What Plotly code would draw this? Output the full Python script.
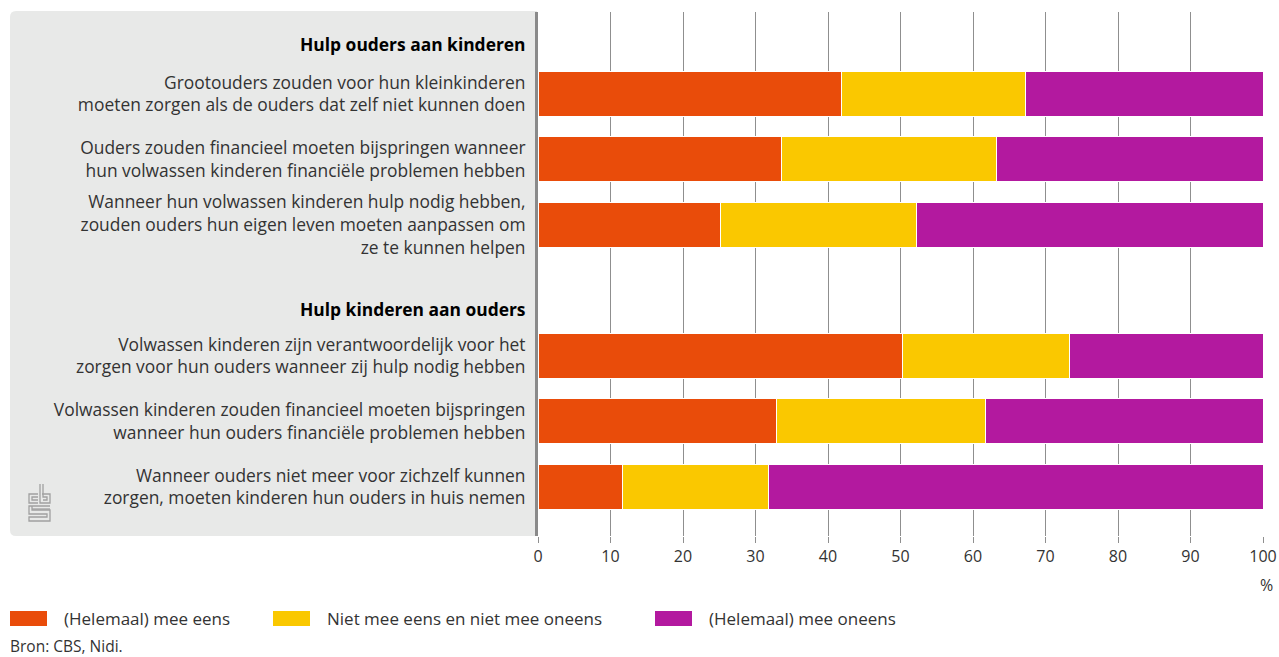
import plotly.graph_objects as go

# ---------------- data ----------------
statements = [
    "Grootouders zouden voor hun kleinkinderen<br>moeten zorgen als de ouders dat zelf niet kunnen doen",
    "Ouders zouden financieel moeten bijspringen wanneer<br>hun volwassen kinderen financiële problemen hebben",
    "Wanneer hun volwassen kinderen hulp nodig hebben,<br>zouden ouders hun eigen leven moeten aanpassen om<br>ze te kunnen helpen",
    "Volwassen kinderen zijn verantwoordelijk voor het<br>zorgen voor hun ouders wanneer zij hulp nodig hebben",
    "Volwassen kinderen zouden financieel moeten bijspringen<br>wanneer hun ouders financiële problemen hebben",
    "Wanneer ouders niet meer voor zichzelf kunnen<br>zorgen, moeten kinderen hun ouders in huis nemen",
]
headers = ["Hulp ouders aan kinderen", "Hulp kinderen aan ouders"]

series_names = ["(Helemaal) mee eens", "Niet mee eens en niet mee oneens", "(Helemaal) mee oneens"]
eens = [41.8, 33.6, 25.2, 50.3, 32.9, 11.6]
neutraal = [25.4, 29.7, 27.0, 23.0, 28.8, 20.2]
oneens = [32.8, 36.7, 47.8, 26.7, 38.3, 68.2]

x_ticks = [0, 10, 20, 30, 40, 50, 60, 70, 80, 90, 100]
source_text = "Bron: CBS, Nidi."
unit_text = "%"

# ---------------- layout constants ----------------
W, H = 1279, 657
L, R, T, B = 538, 1263, 12, 536   # plot area in screen pixels
row_pos = [0, 1, 2, 4, 5, 6]
header_pos = [-0.75, 3.3]
colors = ["#e94c0a", "#fac800", "#b3199f"]
FONT = "Open Sans"
TXT = "#333333"
FS = 17.4


def xp(px):
    return (px - L) / (R - L)


def yp(py):
    return (B - py) / (B - T)


fig = go.Figure()
for name, vals, col in zip(series_names, [eens, neutraal, oneens], colors):
    fig.add_trace(go.Bar(
        x=vals, y=row_pos, orientation="h", name=name,
        marker=dict(color=col, line=dict(color="white", width=1)),
        width=0.69, showlegend=False,
        hovertemplate="%{x}%<extra>" + name + "</extra>",
    ))

shapes = []
# grey panel with rounded left corners
r_x = 6 / (R - L)
r_y = 6 / (B - T)
x0, x1 = xp(10), xp(537)
y0, y1 = yp(536), yp(11)
panel_path = (f"M {x0 + r_x},{y1} L {x1},{y1} L {x1},{y0} L {x0 + r_x},{y0} "
              f"Q {x0},{y0} {x0},{y0 + r_y} L {x0},{y1 - r_y} Q {x0},{y1} {x0 + r_x},{y1} Z")
shapes.append(dict(type="path", xref="paper", yref="paper", path=panel_path,
                   fillcolor="#e8e9e8", line=dict(width=0), layer="below"))

# cbs logo (light grey outlines)
logo_col = "#a0a0a0"


def lp(pts):
    return "M " + " L ".join(f"{xp(a)},{yp(b)}" for a, b in pts)


logo_paths = [
    # c
    [(38, 494), (29, 494), (29, 503), (38, 503)],
    [(38, 497), (32, 497), (32, 500), (38, 500)],
    # b
    [(40, 484), (40, 503), (50, 503), (50, 494), (42, 494)],
    [(43, 484), (43, 497), (47, 497), (47, 500), (43, 500)],
    # s
    [(50, 506), (29, 506), (29, 514), (47, 514), (47, 517), (29, 517), (29, 521), (50, 521), (50, 510), (32, 510), (32, 506)],
    [(32, 509), (50, 509)],
]
for pts in logo_paths:
    shapes.append(dict(type="path", xref="paper", yref="paper", path=lp(pts),
                       line=dict(color=logo_col, width=1.3)))

# legend boxes
legend_box_x = [10, 273, 655]
legend_text_x = [62, 325, 707]
for bx, col in zip(legend_box_x, colors):
    shapes.append(dict(type="rect", xref="paper", yref="paper",
                       x0=xp(bx), x1=xp(bx + 37), y0=yp(626), y1=yp(611),
                       fillcolor=col, line=dict(width=0)))

annotations = []
for tx, name in zip(legend_text_x, series_names):
    annotations.append(dict(text=name, xref="paper", yref="paper", x=xp(tx), y=yp(618.5),
                            xanchor="left", yanchor="middle", showarrow=False,
                            font=dict(family=FONT, size=17, color=TXT)))
annotations.append(dict(text=source_text, xref="paper", yref="paper", x=xp(9), y=yp(646),
                        xanchor="left", yanchor="middle", showarrow=False, borderpad=0,
                        font=dict(family=FONT, size=15.5, color=TXT)))
annotations.append(dict(text=unit_text, xref="paper", yref="paper", x=xp(1266), y=yp(585),
                        xanchor="center", yanchor="middle", showarrow=False,
                        font=dict(family=FONT, size=16, color=TXT)))

tickvals = [header_pos[0]] + row_pos[:3] + [header_pos[1]] + row_pos[3:]
ticktext = ([f"<b><span style='color:#000'>{headers[0]}</span></b>"] + statements[:3]
            + [f"<b><span style='color:#000'>{headers[1]}</span></b>"] + statements[3:])

fig.update_layout(
    width=W, height=H,
    margin=dict(l=L, r=W - R, t=T, b=H - B, pad=0, autoexpand=False),
    paper_bgcolor="white", plot_bgcolor="white",
    barmode="stack", bargap=0.3,
    font=dict(family=FONT, size=FS, color=TXT),
    shapes=shapes, annotations=annotations,
    showlegend=False,
    xaxis=dict(range=[0, 100], tickvals=x_ticks, ticktext=[str(v) for v in x_ticks],
               showgrid=True, gridcolor="#8f8f8f", gridwidth=1, zeroline=False,
               ticks="outside", ticklen=6, tickcolor="#8f8f8f", showline=False,
               automargin=False,
               tickfont=dict(family=FONT, size=16, color=TXT), fixedrange=True),
    yaxis=dict(range=[6.75, -1.25], tickvals=tickvals, ticktext=ticktext,
               showgrid=False, zeroline=False, showline=True, linecolor="#8a8a8a",
               linewidth=3, ticks="", ticklabelstandoff=6, automargin=False,
               tickfont=dict(family=FONT, size=FS, color=TXT), fixedrange=True),
)

fig.write_html("out.html", config={"displayModeBar": False},
               post_script="document.body.style.margin='0px';document.body.style.overflow='hidden';")
